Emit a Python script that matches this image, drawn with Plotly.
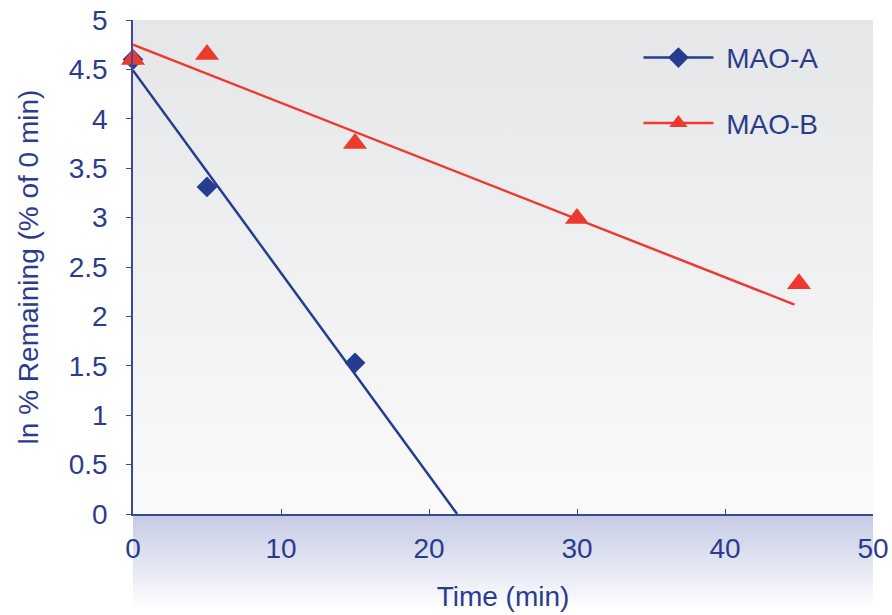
import base64
import plotly.graph_objects as go

# ---- data ----
time_a = [0, 5, 15]
lnrem_a = [4.60, 3.31, 1.53]
time_b = [0, 5, 15, 30, 45]
lnrem_b = [4.60, 4.65, 3.75, 2.99, 2.33]
fit_a_x = [0, 21.9]
fit_a_y = [4.49, 0]
fit_b_x = [0, 44.7]
fit_b_y = [4.75, 2.12]
series_names = ["MAO-A", "MAO-B"]
x_ticks = [0, 10, 20, 30, 40, 50]
y_ticks = [0, 0.5, 1, 1.5, 2, 2.5, 3, 3.5, 4, 4.5, 5]

BLUE = "#263c8f"
RED = "#ee3a2e"
TEXT = "#2b3c8e"
AXIS = "#3a4a9a"
FONT = "Liberation Sans, Arial, sans-serif"
FS = 28


def grad_svg(top, bottom):
    svg = (
        '<svg xmlns="http://www.w3.org/2000/svg" width="100" height="100" '
        'viewBox="0 0 100 100" preserveAspectRatio="none">'
        '<defs><linearGradient id="g" x1="0" y1="0" x2="0" y2="1">'
        f'<stop offset="0" stop-color="{top}"/><stop offset="1" stop-color="{bottom}"/>'
        '</linearGradient></defs><rect width="100" height="100" fill="url(#g)"/></svg>'
    )
    return "data:image/svg+xml;base64," + base64.b64encode(svg.encode()).decode()


fig = go.Figure()

# fit lines
fig.add_trace(go.Scatter(x=fit_a_x, y=fit_a_y, mode="lines",
                         line=dict(color=BLUE, width=2.5), showlegend=False,
                         hoverinfo="skip"))
fig.add_trace(go.Scatter(x=fit_b_x, y=fit_b_y, mode="lines",
                         line=dict(color=RED, width=2.5), showlegend=False,
                         hoverinfo="skip"))
# data points
fig.add_trace(go.Scatter(x=time_a, y=lnrem_a, mode="markers", name=series_names[0],
                         marker=dict(symbol="diamond", size=16, color=BLUE),
                         showlegend=False, cliponaxis=False))
fig.add_trace(go.Scatter(x=time_b, y=lnrem_b, mode="markers", name=series_names[1],
                         marker=dict(symbol="triangle-up", size=21, color=RED),
                         showlegend=False, cliponaxis=False))
# legend entries
fig.add_trace(go.Scatter(x=[None], y=[None], mode="lines+markers",
                         name="\u00a0" + series_names[0], legendgroup="a",
                         line=dict(color=BLUE, width=2.5),
                         marker=dict(symbol="diamond", size=16, color=BLUE)))
fig.add_trace(go.Scatter(x=[None], y=[None], mode="lines+markers",
                         name="\u00a0" + series_names[1], legendgroup="b",
                         line=dict(color=RED, width=2.5),
                         marker=dict(symbol="triangle-up", size=21, color=RED)))

fig.update_layout(
    width=892, height=615,
    margin=dict(l=133, r=19, t=20, b=101),
    paper_bgcolor="white",
    plot_bgcolor="rgba(0,0,0,0)",
    font=dict(family=FONT, size=FS, color=TEXT),
    showlegend=True,
    legend=dict(x=0.683, y=0.974, xanchor="left", yanchor="top",
                bgcolor="rgba(0,0,0,0)", font=dict(size=FS, color=TEXT),
                traceorder="grouped", tracegroupgap=26, itemwidth=70),
    images=[
        dict(source=grad_svg("#e5e6e8", "#fafafa"), xref="paper", yref="paper",
             x=0, y=1, sizex=1, sizey=1, xanchor="left", yanchor="top",
             sizing="stretch", layer="below"),
        dict(source=grad_svg("#c5cae4", "#ffffff"), xref="paper", yref="paper",
             x=0, y=0, sizex=1, sizey=96 / 494, xanchor="left", yanchor="top",
             sizing="stretch", layer="below"),
    ],
)

fig.update_xaxes(
    range=[0, 50], tickvals=x_ticks, ticktext=[str(v) for v in x_ticks],
    showgrid=False, zeroline=False, automargin=False,
    showline=True, linecolor=AXIS, linewidth=1.5,
    ticks="inside", ticklen=5, tickcolor=AXIS, tickwidth=1,
    ticklabelstandoff=9,
    tickfont=dict(size=FS, color=TEXT),
    title=dict(text="Time (min)", font=dict(size=FS, color=TEXT), standoff=23),
)
fig.update_yaxes(
    range=[0, 5], tickvals=y_ticks, ticktext=[f"{v:g}" for v in y_ticks],
    showgrid=False, zeroline=False, automargin=False,
    showline=True, linecolor=AXIS, linewidth=1.5,
    ticks="outside", ticklen=5, tickcolor=AXIS, tickwidth=1,
    ticklabelstandoff=13,
    tickfont=dict(size=FS, color=TEXT),
    title=dict(text="ln % Remaining (% of 0 min)", font=dict(size=FS, color=TEXT), standoff=22),
)

fig.write_html("out.html",
               config={"displayModeBar": False},
               post_script="document.body.style.margin='0';document.body.style.overflow='hidden';")
